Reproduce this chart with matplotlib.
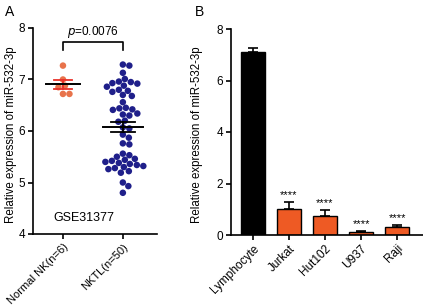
import numpy as np
import matplotlib
matplotlib.use("Agg")
import matplotlib.pyplot as plt

plt.rcParams['font.family'] = ['Liberation Sans', 'DejaVu Sans']

# ---------------- data ----------------
groups_a = ["Normal NK(n=6)", "NKTL(n=50)"]
normal_nk = [7.27, 7.00, 6.88, 6.85, 6.72, 6.72]
nktl = [7.29, 7.27, 7.13, 7.01,
        6.96, 6.95, 6.93, 6.92, 6.88, 6.86,
        6.80, 6.78, 6.76, 6.70, 6.68, 6.56,
        6.45, 6.44, 6.42, 6.41, 6.34, 6.32, 6.30,
        6.20, 6.18, 6.07, 6.05, 5.93, 5.87, 5.76, 5.74,
        5.56, 5.53, 5.50, 5.46, 5.44, 5.42, 5.40, 5.38,
        5.36, 5.34, 5.32, 5.30, 5.28, 5.26, 5.22, 5.19,
        5.00, 4.93, 4.80]
p_text = "=0.0076"
dataset_label = "GSE31377"

cells = ["Lymphocyte", "Jurkat", "Hut102", "U937", "Raji"]
cell_means = [7.12, 1.02, 0.72, 0.12, 0.30]
cell_err = [0.13, 0.26, 0.24, 0.03, 0.07]
cell_sig = ["", "****", "****", "****", "****"]

ylabel = "Relative expression of miR-532-3p"

# ---------------- figure ----------------
W, H = 423, 306
fig = plt.figure(figsize=(W / 100, H / 100), dpi=100)

axA = fig.add_axes([33 / W, 1 - 234 / H, 124 / W, 206 / H])
axB = fig.add_axes([231 / W, 1 - 235 / H, 192 / W, 206 / H])

for ax in (axA, axB):
    ax.spines['top'].set_visible(False)
    ax.spines['right'].set_visible(False)
    ax.spines['left'].set_linewidth(1.2)
    ax.spines['bottom'].set_linewidth(1.2)
    ax.tick_params(width=1.2, length=3.5, labelsize=8.5, pad=2)


def swarm(values, center, dx_per_px, dy_per_px, diam_px):
    """Simple beeswarm: place points so that they do not overlap."""
    order = np.argsort(values)[::-1]
    placed = []
    xs = np.zeros(len(values))
    cands = [0.0]
    for k in range(1, 200):
        cands += [k * 0.5, -k * 0.5]
    for i in order:
        y = values[i] / dy_per_px
        for c in cands:
            ok = True
            for (px, py) in placed:
                if (c - px) ** 2 + (y - py) ** 2 < diam_px ** 2:
                    ok = False
                    break
            if ok:
                placed.append((c, y))
                xs[i] = center + c * dx_per_px
                break
    return xs


px_x = 1 / 60.0   # data units per pixel (x) for panel A
px_y = 1 / 51.5   # data units per pixel (y)
diam = 6.4

colors_a = ["#E8734B", "#1F1F8A"]
err_colors = ["#E8312A", "black"]
half_mean = [0.28, 0.33]
half_cap = [0.15, 0.2]
for gi, vals in enumerate([normal_nk, nktl]):
    vals = np.array(vals)
    xs = swarm(vals, gi, px_x, px_y, diam)
    axA.scatter(xs, vals, s=22, color=colors_a[gi], edgecolors='none', zorder=3)
    m = vals.mean()
    sem = vals.std(ddof=1) / np.sqrt(len(vals))
    axA.plot([gi - half_cap[gi], gi + half_cap[gi]], [m + sem] * 2, color=err_colors[gi], lw=1.3, zorder=4)
    axA.plot([gi - half_cap[gi], gi + half_cap[gi]], [m - sem] * 2, color=err_colors[gi], lw=1.3, zorder=4)
    axA.plot([gi, gi], [m - sem, m + sem], color=err_colors[gi], lw=1.3, zorder=4)
    axA.plot([gi - half_mean[gi], gi + half_mean[gi]], [m, m], color='black', lw=1.4, zorder=5)

axA.set_xlim(-0.5, 1.57)
axA.set_ylim(4, 8)
axA.set_yticks([4, 5, 6, 7, 8])
axA.set_xticks([0, 1])
axA.set_xticklabels(groups_a, rotation=45, ha='right', rotation_mode='anchor', fontsize=8)
axA.set_ylabel(ylabel, fontsize=8.3)
axA.yaxis.set_label_coords(-0.129, 0.48)

# significance bracket
axA.plot([0, 0, 1, 1], [7.58, 7.72, 7.72, 7.58], color='black', lw=1.2, clip_on=False)
axA.text(0.5, 7.77, r"$\it{p}$" + p_text, ha='center', va='bottom', fontsize=8.5)
axA.text(0.35, 4.2, dataset_label, ha='center', va='bottom', fontsize=9)

# panel B bars
x = np.arange(len(cells))
bar_colors = ["black"] + ["#EE5A24"] * (len(cells) - 1)
axB.bar(x, cell_means, width=0.67, color=bar_colors, edgecolor='black', linewidth=1.0, zorder=2)
axB.errorbar(x, cell_means, yerr=[np.zeros(len(cells)), cell_err], fmt='none',
             ecolor='black', elinewidth=1.2, capsize=3.5, capthick=1.2, zorder=3)
for xi, m, e, s in zip(x, cell_means, cell_err, cell_sig):
    if s:
        axB.text(xi, m + e + 0.08, s, ha='center', va='bottom', fontsize=8)
axB.set_xlim(-0.61, 4.72)
axB.set_ylim(0, 8)
axB.set_yticks([0, 2, 4, 6, 8])
axB.set_xticks(x)
axB.set_xticklabels(cells, rotation=45, ha='right', rotation_mode='anchor', fontsize=8.5)
axB.set_ylabel(ylabel, fontsize=8.3)
axB.yaxis.set_label_coords(-0.146, 0.485)

fig.text(5 / W, 1 - 5 / H, "A", fontsize=10, va='top', ha='left')
fig.text(195 / W, 1 - 5 / H, "B", fontsize=10, va='top', ha='left')

fig.savefig("out.png", dpi=100)
